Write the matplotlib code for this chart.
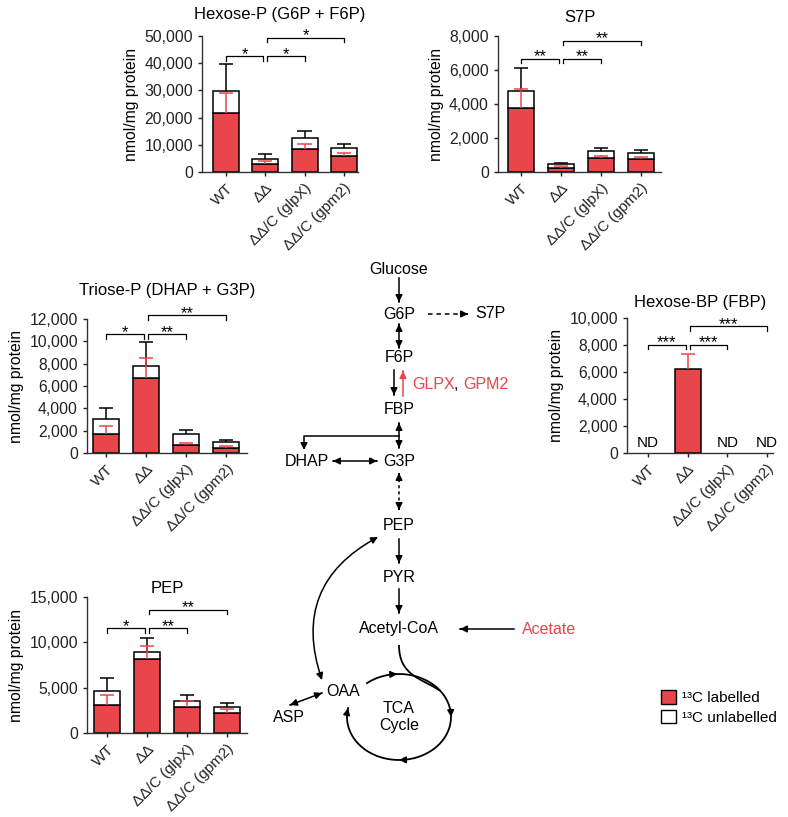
import numpy as np
import matplotlib
matplotlib.use('Agg')
import matplotlib.pyplot as plt
from matplotlib.patches import Patch, PathPatch
from matplotlib.path import Path
from matplotlib.ticker import FuncFormatter

plt.rcParams['font.family'] = ['Liberation Sans', 'DejaVu Sans']

RED = '#e8464b'
W, H = 788, 817

groups = ['WT', 'ΔΔ', 'ΔΔ/C (glpX)', 'ΔΔ/C (gpm2)']

# Hexose-P (G6P + F6P)
hexp_total = [29800, 4900, 12500, 8900]
hexp_total_err = [9800, 1700, 2700, 1500]
hexp_lab = [21700, 2900, 8400, 5900]
hexp_lab_err = [7400, 1100, 2000, 1200]
hexp_sig = [(0, 1, 42600, '*'), (1, 2, 42600, '*'), (1, 3, 49400, '*')]

# S7P
s7p_total = [4750, 470, 1210, 1100]
s7p_total_err = [1350, 60, 220, 170]
s7p_lab = [3790, 235, 800, 740]
s7p_lab_err = [1100, 95, 160, 140]
s7p_sig = [(0, 1, 6670, '**'), (1, 2, 6670, '**'), (1, 3, 7730, '**')]

# Triose-P (DHAP + G3P)
tri_total = [3010, 7830, 1730, 980]
tri_total_err = [1040, 2120, 320, 210]
tri_lab = [1700, 6700, 745, 480]
tri_lab_err = [680, 1850, 175, 120]
tri_sig = [(0, 1, 10660, '*'), (1, 2, 10660, '**'), (1, 3, 12360, '**')]

# Hexose-BP (FBP), only detected in the double mutant
fbp_lab = [np.nan, 6250, np.nan, np.nan]
fbp_lab_err = [np.nan, 1110, np.nan, np.nan]
fbp_sig = [(0, 1, 8030, '***'), (1, 2, 8030, '***'), (1, 3, 9380, '***')]

# PEP
pep_total = [4630, 8930, 3530, 2870]
pep_total_err = [1470, 1550, 700, 480]
pep_lab = [3120, 8120, 2830, 2240]
pep_lab_err = [1030, 1440, 700, 440]
pep_sig = [(0, 1, 11540, '*'), (1, 2, 11540, '**'), (1, 3, 13600, '**')]

fig = plt.figure(figsize=(W / 100, H / 100), dpi=100)


def px_axes(l, t, r, b):
    return fig.add_axes([l / W, 1 - b / H, (r - l) / W, (b - t) / H])


def bar_panel(box, xlim, ymax, step, title, tpad, lab, lab_err, sig,
              total=None, total_err=None, nd=False):
    ax = px_axes(*box)
    x = np.arange(len(groups))
    bw = 0.66
    lab = np.array(lab, dtype=float)
    ax.bar(x, lab, bw, color=RED, edgecolor='k', lw=1.1, zorder=2)
    if total is not None:
        total = np.array(total, dtype=float)
        ax.bar(x, total - lab, bw, bottom=lab, color='white', edgecolor='k', lw=1.1, zorder=2)
        top = total + np.array(total_err)
        ax.vlines(x, total, top, color='k', lw=1.1, zorder=3)
        ax.hlines(top, x - 0.18, x + 0.18, color='k', lw=1.1, zorder=3)
    ltop = lab + np.array(lab_err, dtype=float)
    ax.vlines(x, lab, ltop, color=RED, lw=1.1, zorder=4)
    ax.hlines(ltop, x - 0.18, x + 0.18, color=RED, lw=1.1, zorder=4)
    if nd:
        for i in range(len(groups)):
            if np.isnan(lab[i]):
                ax.text(i, ymax * 0.025, 'ND', ha='center', va='bottom', fontsize=11)

    # significance brackets
    d = ymax * 0.035
    for i, j, y, s in sig:
        x1 = i + (0.05 if i == 1 else 0)
        x2 = j - (0.05 if j == 1 else 0)
        ax.plot([x1, x1, x2, x2], [y - d, y, y, y - d], color='k', lw=0.9, clip_on=False)
        ax.annotate(s, ((x1 + x2) / 2, y), xytext=(0, -2), textcoords='offset points',
                    ha='center', va='baseline', fontsize=12, annotation_clip=False)

    ax.set_xlim(*xlim)
    ax.set_ylim(0, ymax)
    ax.set_yticks(np.arange(0, ymax + 1, step))
    ax.yaxis.set_major_formatter(FuncFormatter(lambda v, p: f'{v:,.0f}'))
    ax.set_xticks(x)
    ax.set_xticklabels(groups, rotation=45, ha='right', rotation_mode='anchor', fontsize=11)
    ax.tick_params(axis='y', labelsize=11.3, length=3, width=1, colors='#222222')
    ax.tick_params(axis='x', length=3, width=1, colors='#222222')
    for sp in ['top', 'right']:
        ax.spines[sp].set_visible(False)
    for sp in ['left', 'bottom']:
        ax.spines[sp].set_linewidth(1)
        ax.spines[sp].set_color('#333333')
    ax.set_ylabel('nmol/mg protein', fontsize=11.3)
    ax.set_title(title, fontsize=12, pad=tpad)
    return ax


bar_panel((202, 36, 358, 172), (-0.61, 3.36), 50000, 10000,
          'Hexose-P (G6P + F6P)', 12, hexp_lab, hexp_lab_err, hexp_sig,
          hexp_total, hexp_total_err)
bar_panel((498, 36, 661, 172), (-0.575, 3.5), 8000, 2000,
          'S7P', 10, s7p_lab, s7p_lab_err, s7p_sig, s7p_total, s7p_total_err)
bar_panel((87, 319, 247, 453), (-0.475, 3.52), 12000, 2000,
          'Triose-P (DHAP + G3P)', 17, tri_lab, tri_lab_err, tri_sig,
          tri_total, tri_total_err)
bar_panel((627, 318, 773, 453), (-0.53, 3.15), 10000, 2000,
          'Hexose-BP (FBP)', 8, fbp_lab, fbp_lab_err, fbp_sig, nd=True)
bar_panel((87, 597, 247, 733), (-0.5, 3.5), 15000, 5000,
          'PEP', 3, pep_lab, pep_lab_err, pep_sig, pep_total, pep_total_err)

# pathway scheme, drawn in pixel space over the whole figure
ax_d = fig.add_axes([0, 0, 1, 1], zorder=-1)
ax_d.set_xlim(0, W)
ax_d.set_ylim(H, 0)
ax_d.axis('off')

FS = 11.5
nodes = {'Glucose': (399, 269), 'G6P': (399, 314), 'S7P': (490, 313),
         'F6P': (399, 357), 'FBP': (399, 409), 'DHAP': (307, 461),
         'G3P': (399, 461), 'PEP': (399, 526), 'PYR': (399, 577),
         'Acetyl-CoA': (399, 629), 'OAA': (343, 692), 'ASP': (289, 717)}
for name, (nx, ny) in nodes.items():
    ax_d.text(nx, ny, name, ha='center', va='center', fontsize=FS)


def head(p0, p1, color='k'):
    ax_d.annotate('', xy=p1, xytext=p0,
                  arrowprops=dict(arrowstyle='-|>', color=color, lw=1.1,
                                  shrinkA=0, shrinkB=0, mutation_scale=10))


def arrow(p0, p1, color='k', ls='-', both=False):
    ax_d.plot([p0[0], p1[0]], [p0[1], p1[1]], color=color, lw=1.1, ls=ls)
    v = np.subtract(p1, p0) / np.hypot(*np.subtract(p1, p0))
    head(np.subtract(p1, v), p1, color)
    if both:
        head(np.add(p0, v), p0, color)


arrow((399, 278), (399, 302))
arrow((428, 314), (468, 314), ls=(0, (3, 2.5)))
arrow((399, 324), (399, 348), both=True)
arrow((394, 370), (394, 395))
arrow((403, 396), (403, 371), color=RED)
ax_d.text(412, 384, 'GLPX', color=RED, fontsize=FS, va='center')
ax_d.text(454, 384, ',', color='k', fontsize=FS, va='center')
ax_d.text(463, 384, 'GPM2', color=RED, fontsize=FS, va='center')
arrow((399, 423), (399, 448), both=True)
ax_d.plot([399, 304, 304], [436, 436, 446], color='k', lw=1.1)
head((304, 446), (304, 450))
arrow((333, 461), (377, 461), both=True)
arrow((399, 473), (399, 510), ls=(0, (2, 2)), both=True)
arrow((399, 539), (399, 563))
arrow((399, 589), (399, 613))
arrow((514, 629), (460, 629))
ax_d.text(522, 629, 'Acetate', color=RED, fontsize=FS, va='center')
arrow((322, 693), (290, 705), both=True)

# OAA <-> PEP curved arrow
ax_d.annotate('', xy=(378, 537), xytext=(322, 680),
              arrowprops=dict(arrowstyle='<|-|>', color='k', lw=1.1, shrinkA=0, shrinkB=0,
                              mutation_scale=10, connectionstyle='arc3,rad=-0.42'))

# TCA cycle
cx, cy, rx, ry = 399, 717, 52, 43


def ell(t):
    t = np.radians(t)
    return cx + rx * np.cos(t), cy - ry * np.sin(t)


tt = np.linspace(128, -192, 300)
ex, ey = ell(tt)
ax_d.plot(ex, ey, color='k', lw=1.3)
for t in [92, 0, -90, -192]:
    head(ell(t + 4), ell(t))
ax_d.text(cx, cy, 'TCA\nCycle', ha='center', va='center', fontsize=FS, linespacing=1.2)

# acetyl-CoA feeding into the cycle
p3 = ell(38)
verts = [(399, 645), (399, 675), (420, 678), p3]
ax_d.add_patch(PathPatch(Path(verts, [Path.MOVETO, Path.CURVE4, Path.CURVE4, Path.CURVE4]),
                         fc='none', ec='k', lw=1.3))

# legend
handles = [Patch(facecolor=RED, edgecolor='k', lw=1, label='¹³C labelled'),
           Patch(facecolor='white', edgecolor='k', lw=1, label='¹³C unlabelled')]
fig.legend(handles=handles, loc='upper left', bbox_to_anchor=(655 / W, 1 - 684 / H),
           frameon=False, fontsize=11, handlelength=1.0, handleheight=1.0,
           handletextpad=0.4, labelspacing=0.3, borderaxespad=0)

fig.savefig('out.png', dpi=100)
